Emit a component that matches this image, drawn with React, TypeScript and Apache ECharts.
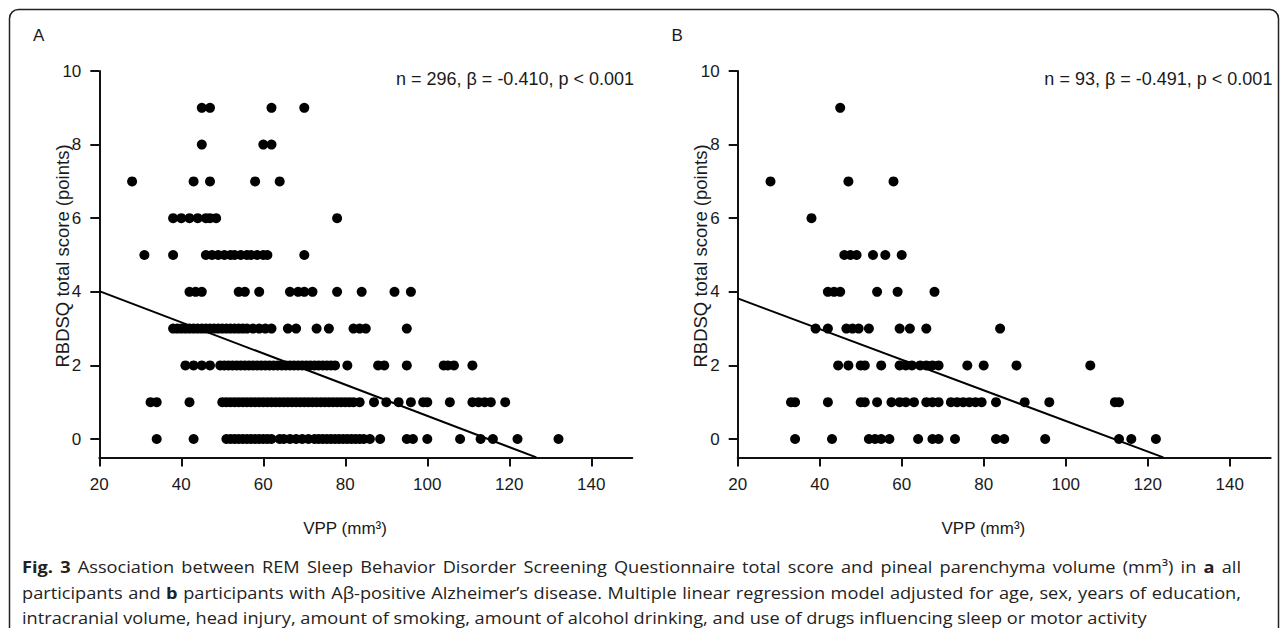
import React, { useEffect, useRef } from "react";
import * as echarts from "echarts";

// ---------- Data (VPP values in mm³ per RBDSQ score) ----------
const scoreLevels = [0, 1, 2, 3, 4, 5, 6, 7, 8, 9];
const xTicks = [20, 40, 60, 80, 100, 120, 140];
const yTicks = [0, 2, 4, 6, 8, 10];

// Panel A: all participants
const a0 = [34, 43, 51, 52, 53, 54, 55, 56, 57, 58, 59, 60, 61, 62, 64, 65, 66.5, 68, 69.5, 71, 72.5, 73.5, 74.5, 75.5, 76.5, 77.5, 78.5, 79.5, 80.5, 81.5, 82.5, 83.5, 84.5, 86, 88.5, 95, 96.5, 100, 108, 113, 116, 122, 132];
const a1 = [32.5, 34, 42, 50, 51, 52, 53, 54, 55, 56, 57, 58, 59, 60, 61, 62, 63, 64, 65, 66, 67, 68, 69, 70, 71, 72, 73, 74, 75, 76, 77, 78, 79, 80, 81, 82, 83.5, 87, 90, 93, 96, 99, 100, 105.5, 111, 112.5, 114, 115.5, 119];
const a2 = [41, 43, 45, 47, 49.5, 50.5, 51.5, 52.5, 53.5, 54.5, 55.5, 56.5, 57.5, 58.5, 59.5, 60.5, 61.5, 62.5, 63.5, 64.5, 65.5, 66.5, 67.5, 68.5, 69.5, 70.5, 71.5, 72.5, 73.5, 74.5, 75.5, 76.5, 77.5, 80.5, 88, 89.5, 95, 104, 105, 106.5, 111];
const a3 = [38, 39, 40, 41, 42, 43, 44, 45, 46, 47, 48, 49, 50, 51, 52, 53, 54, 55, 56, 57.5, 59, 60.5, 62, 66, 68, 73, 76, 82, 83.5, 85, 95];
const a4 = [42, 43.5, 45, 54, 55.5, 59, 66.5, 68.5, 70, 72, 78, 84, 92, 96];
const a5 = [31, 38, 46, 47.5, 49, 50.5, 52, 53, 54.5, 56, 57, 58.5, 60, 61, 70];
const a6 = [38, 40, 42, 44, 46, 47, 48.5, 78];
const a7 = [28, 43, 47, 58, 64];
const a8 = [45, 60, 62];
const a9 = [45, 47, 62, 70];
const lineA = [[20, 4.02], [126.6, -0.5]];

// Panel B: Aβ-positive Alzheimer's disease
const b0 = [34, 43, 52, 53.5, 55, 57, 64, 67.5, 69, 73, 83, 85, 95, 113, 116, 122];
const b1 = [33, 34, 42, 50, 51, 54, 57.5, 59.5, 61, 63, 66, 67.5, 69, 72, 73.5, 75, 76.5, 78, 79.5, 83, 90, 96, 112, 113];
const b2 = [44.5, 47, 50, 51, 55, 59.5, 61, 62.5, 64.5, 66, 67.5, 69, 76, 80, 88, 106];
const b3 = [39, 42, 46.5, 48, 49.5, 52, 59.5, 62, 66, 84];
const b4 = [42, 43.5, 45, 54, 59, 68];
const b5 = [46, 47.5, 49, 53, 56, 60];
const b6 = [38];
const b7 = [28, 47, 58];
const b8: number[] = [];
const b9 = [45];
const lineB = [[20, 3.82], [123.8, -0.5]];

const statsA = "n = 296, β = -0.410, p < 0.001";
const statsB = "n = 93, β = -0.491, p < 0.001";
const yTitle = "RBDSQ total score (points)";
const xTitle = "VPP (mm³)";

// Caption lines; words between * are bold. Lines 1–2 are justified, line 3 is not.
const caption1 = "*Fig.* *3* Association between REM Sleep Behavior Disorder Screening Questionnaire total score and pineal parenchyma volume (mm³) in *a* all";
const caption2 = "participants and *b* participants with Aβ-positive Alzheimer’s disease. Multiple linear regression model adjusted for age, sex, years of education,";
const caption3 = "intracranial volume, head injury, amount of smoking, amount of alcohol drinking, and use of drugs influencing sleep or motor activity";

const levelsA = [a0, a1, a2, a3, a4, a5, a6, a7, a8, a9];
const levelsB = [b0, b1, b2, b3, b4, b5, b6, b7, b8, b9];

function toPoints(levels: number[][]) {
  const pts: number[][] = [];
  levels.forEach((xs, i) => xs.forEach((x) => pts.push([x, scoreLevels[i]])));
  return pts;
}

const FONT = "'Liberation Sans', Arial, sans-serif";
const CAP_FONT = "'Open Sans', sans-serif";
const CAP_SIZE = 16.4;
const CAP_SCALE = 1.11;
const INK = "#111";

function makeX(gridIndex: number) {
  return {
    type: "value",
    gridIndex,
    min: 20,
    max: 150,
    axisLine: { show: true, onZero: false, lineStyle: { color: INK, width: 2 } },
    axisTick: { show: true, customValues: xTicks, length: 9, lineStyle: { color: INK, width: 2 } },
    axisLabel: { customValues: xTicks, margin: 19, color: "#1a1a1a", fontSize: 17, fontFamily: FONT },
    splitLine: { show: false },
  };
}
function makeY(gridIndex: number) {
  return {
    type: "value",
    gridIndex,
    min: -0.5,
    max: 10,
    axisLine: { show: true, onZero: false, lineStyle: { color: INK, width: 2 } },
    axisTick: { show: true, customValues: yTicks, length: 9, lineStyle: { color: INK, width: 2 } },
    axisLabel: { customValues: yTicks, margin: 18, color: "#1a1a1a", fontSize: 17, fontFamily: FONT },
    splitLine: { show: false },
  };
}

function captionLine(line: string, y: number, justify: boolean, left: number, right: number) {
  const canvas = document.createElement("canvas");
  const ctx = canvas.getContext("2d")!;
  const words = line.split(" ").map((w) => {
    const bold = w.startsWith("*") && w.endsWith("*");
    const text = bold ? w.slice(1, -1) : w;
    ctx.font = `${bold ? "bold " : ""}${CAP_SIZE}px ${CAP_FONT}`;
    return { text, bold, w: ctx.measureText(text).width * CAP_SCALE };
  });
  ctx.font = `${CAP_SIZE}px ${CAP_FONT}`;
  const space = ctx.measureText(" ").width * CAP_SCALE;
  const total = words.reduce((s, w) => s + w.w, 0);
  const gap = justify ? (right - left - total) / (words.length - 1) : space;
  let x = left;
  return words.map((w) => {
    const el = {
      type: "text",
      x,
      y,
      scaleX: CAP_SCALE,
      silent: true,
      style: {
        text: w.text,
        fill: "#222",
        fontSize: CAP_SIZE,
        fontFamily: CAP_FONT,
        fontWeight: w.bold ? "bold" : "normal",
        textVerticalAlign: "middle",
      },
    };
    x += w.w + gap;
    return el;
  });
}

export default function App() {
  const ref = useRef<HTMLDivElement>(null);
  useEffect(() => {
    if (!ref.current) return;
    const chart = echarts.init(ref.current, undefined, { renderer: "svg" });
    const off = 638.4;
    const txt = (x: number, y: number, text: string, size: number, extra: any = {}) => ({
      type: "text",
      x,
      y,
      style: { text, fill: "#1a1a1a", font: `${size}px ${FONT}`, textVerticalAlign: "middle", ...extra },
    });
    chart.setOption({
      animation: false,
      backgroundColor: "#fff",
      grid: [
        { left: 99.3, top: 71, width: 533, height: 386.4 },
        { left: 99.3 + off, top: 71, width: 533, height: 386.4 },
      ],
      xAxis: [makeX(0), makeX(1)],
      yAxis: [makeY(0), makeY(1)],
      series: [
        { type: "scatter", xAxisIndex: 0, yAxisIndex: 0, data: toPoints(levelsA), symbolSize: 10, itemStyle: { color: "#000", opacity: 1 } },
        { type: "line", xAxisIndex: 0, yAxisIndex: 0, data: lineA, showSymbol: false, symbol: "none", lineStyle: { color: "#000", width: 2 }, z: 3 },
        { type: "scatter", xAxisIndex: 1, yAxisIndex: 1, data: toPoints(levelsB), symbolSize: 10, itemStyle: { color: "#000", opacity: 1 } },
        { type: "line", xAxisIndex: 1, yAxisIndex: 1, data: lineB, showSymbol: false, symbol: "none", lineStyle: { color: "#000", width: 2 }, z: 3 },
      ],
      graphic: [
        { type: "rect", shape: { x: 9.5, y: 9.5, width: 1269, height: 660, r: 9 }, style: { fill: "none", stroke: "#222", lineWidth: 1.5 } },
        txt(33, 35, "A", 17),
        txt(33 + off, 35, "B", 17),
        txt(634, 79, statsA, 18, { textAlign: "right" }),
        txt(634 + off, 79, statsB, 18, { textAlign: "right" }),
        { ...txt(62, 256, yTitle, 18.5, { textAlign: "center" }), rotation: Math.PI / 2 },
        { ...txt(62 + off, 256, yTitle, 18.5, { textAlign: "center" }), rotation: Math.PI / 2 },
        txt(345, 528, xTitle, 17, { textAlign: "center" }),
        txt(345 + off, 528, xTitle, 17, { textAlign: "center" }),
        ...captionLine(caption1, 566, true, 22, 1241),
        ...captionLine(caption2, 592, true, 22, 1241),
        ...captionLine(caption3, 617, false, 22, 1241),
      ],
    });
    return () => chart.dispose();
  }, []);
  return (
    <div style={{ position: "fixed", left: 0, top: 0, width: 1284, height: 628, background: "#fff" }}>
      <div ref={ref} style={{ width: 1284, height: 628 }} />
    </div>
  );
}
